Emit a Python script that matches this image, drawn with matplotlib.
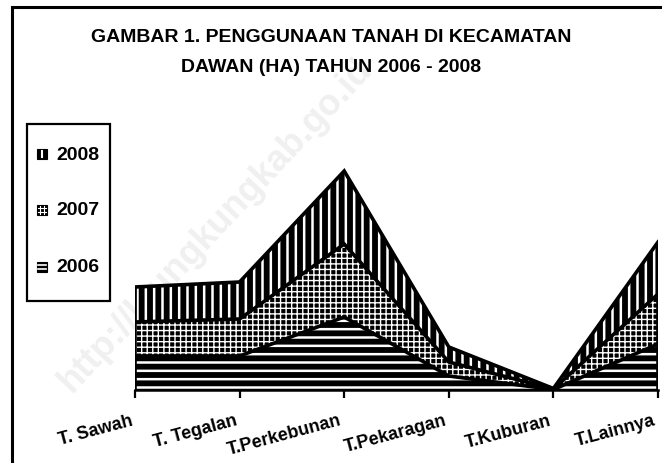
import matplotlib
matplotlib.use("Agg")
import matplotlib.pyplot as plt
import matplotlib.transforms as mtransforms
from matplotlib.patches import Rectangle
from matplotlib.lines import Line2D

# land use per category (stacked 2006 -> 2008)
categories = ["T. Sawah", "T. Tegalan", "T.Perkebunan", "T.Pekaragan", "T.Kuburan", "T.Lainnya"]
y2006 = [34, 34, 73, 14, 0.5, 46]
y2007 = [34, 37, 73, 14, 0.5, 50]
y2008 = [35, 37, 73, 15, 0.5, 52]
years = ["2006", "2007", "2008"]
hatches = ["--", "+++", "||"]
hatch_lw = [1.8, 1.0, 1.8]

plt.rcParams['font.family'] = ['Liberation Sans', 'DejaVu Sans']
plt.rcParams['hatch.color'] = 'white'

W, H = 662, 464
fig = plt.figure(figsize=(W / 100, H / 100), dpi=100)

def fx(px):
    return px / W

def fy(py):
    return 1 - py / H

# outer chart frame (runs past right and bottom edge of the image)
fig.add_artist(Rectangle((fx(12), -0.2), 1.5, fy(8) + 0.2, transform=fig.transFigure,
                         fill=False, lw=2.2, ec='black'))

# faint watermark, behind everything
fig.text(fx(215), fy(225), "http://klungkungkab.go.id", rotation=47, fontsize=26,
         fontweight='bold', color='#f0f0f0', ha='center', va='center', zorder=-5)

ax = fig.add_axes([fx(135), fy(391), fx(658) - fx(135), fy(100) - fy(391)])
ax.patch.set_alpha(0)
x = list(range(len(categories)))

base = [0] * len(x)
for vals, h, hl in zip([y2006, y2007, y2008], hatches, hatch_lw):
    top = [b + v for b, v in zip(base, vals)]
    with plt.rc_context({'hatch.linewidth': hl}):
        ax.fill_between(x, base, top, facecolor='black', edgecolor='white', hatch=h, lw=0)
    ax.plot(x, top, color='black', lw=2.6, solid_joinstyle='miter', zorder=3)
    base = top

ax.vlines([x[0], x[-1]], 0, [base[0], base[-1]], color='black', lw=2.6, zorder=3)

ax.set_xlim(0, len(x) - 1)
ax.set_ylim(0, 291)
for s in ['top', 'right', 'left']:
    ax.spines[s].set_visible(False)
ax.spines['bottom'].set_linewidth(1.8)
ax.set_yticks([])
ax.set_xticks(x)
ax.set_xticklabels(categories, rotation=15, rotation_mode='anchor', ha='right', va='top',
                   fontweight='bold', fontsize=13)
ax.tick_params(axis='x', direction='out', length=6, width=1.6, pad=8)
shift = mtransforms.ScaledTranslation(-5 / 100, -2 / 100, fig.dpi_scale_trans)
for lbl in ax.get_xticklabels():
    lbl.set_transform(lbl.get_transform() + shift)

# title
fig.text(0.5, fy(38), "GAMBAR 1. PENGGUNAAN TANAH DI KECAMATAN", ha='center', va='center',
         fontsize=14, fontweight='bold')
fig.text(0.5, fy(68), "DAWAN (HA) TAHUN 2006 - 2008", ha='center', va='center',
         fontsize=14, fontweight='bold')

# legend box, top entry is 2008
fig.add_artist(Rectangle((fx(27), fy(302)), fx(110) - fx(27), fy(125) - fy(302),
                         transform=fig.transFigure, fill=False, lw=1.6, ec='black'))
rows = [(155, "2008"), (211, "2007"), (268, "2006")]
for yc, lab in rows:
    fig.add_artist(Rectangle((fx(37), fy(yc + 5)), fx(10), 10 / H, transform=fig.transFigure,
                             facecolor='black', ec='black', lw=0.8))
    if lab == "2008":
        fig.add_artist(Line2D([fx(42), fx(42)], [fy(yc + 3), fy(yc - 3)], color='white', lw=1.5))
    elif lab == "2007":
        for d in (-2, 2):
            fig.add_artist(Line2D([fx(42 + d), fx(42 + d)], [fy(yc + 4), fy(yc - 4)], color='white', lw=0.8))
            fig.add_artist(Line2D([fx(38), fx(46)], [fy(yc + d), fy(yc + d)], color='white', lw=0.8))
    else:
        for d in (-2, 2):
            fig.add_artist(Line2D([fx(38), fx(46)], [fy(yc + d), fy(yc + d)], color='white', lw=1.2))
    fig.text(fx(56), fy(yc), lab, ha='left', va='center', fontsize=14, fontweight='bold')

fig.savefig("out.png", dpi=100)
